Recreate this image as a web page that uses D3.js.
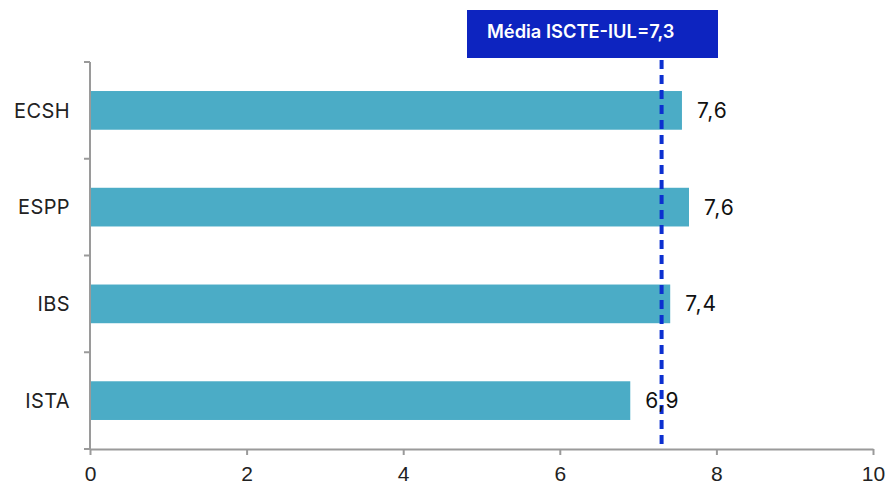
<!DOCTYPE html>
<html>
<head>
<script src="https://d3js.org/d3.v7.min.js"></script>
<style>
  body { margin: 0; background: #fff; }
  svg { font-family: Inter, "Open Sans", sans-serif; }
</style>
</head>
<body>
<svg id="chart" width="887" height="485"></svg>
<script>
// data
var schools = ["ECSH", "ESPP", "IBS", "ISTA"];
var scores = [7.56, 7.65, 7.41, 6.9];
var scoreLabels = ["7,6", "7,6", "7,4", "6,9"];
var xTicks = [0, 2, 4, 6, 8, 10];
var meanValue = 7.3;
var meanLabel = "Média ISCTE-IUL=7,3";

var svg = d3.select("#chart");
var plotLeft = 90, plotRight = 873, plotTop = 62, plotBottom = 449;

var x = d3.scaleLinear().domain([0, 10]).range([plotLeft, plotRight]);
var y = d3.scaleBand().domain(schools).range([plotTop, plotBottom]).paddingInner(0.6).paddingOuter(0.3);

// bars
svg.selectAll("rect.bar")
  .data(schools)
  .enter()
  .append("rect")
  .attr("class", "bar")
  .attr("fill", "#4bacc6")
  .attr("x", x(0))
  .attr("y", function(d){ return y(d); })
  .attr("width", function(d, i){ return x(scores[i]) - x(0); })
  .attr("height", y.bandwidth());

// x axis
var xAxis = svg.append("g")
  .attr("transform", "translate(0," + plotBottom + ")")
  .call(d3.axisBottom(x).tickValues(xTicks).tickSize(6).tickSizeOuter(0).tickFormat(d3.format("d")));
xAxis.select(".domain").attr("stroke", "#9a9a9a").attr("stroke-width", 2);
xAxis.selectAll(".tick line").attr("stroke", "#9a9a9a").attr("stroke-width", 2);
xAxis.selectAll("text").attr("font-size", 21).attr("fill", "#222").attr("dy", "1.08em");

// y axis, ticks sit on the category boundaries
var yAxis = svg.append("g").attr("transform", "translate(" + plotLeft + ",0)");
yAxis.append("line")
  .attr("x1", 0).attr("x2", 0)
  .attr("y1", plotTop).attr("y2", plotBottom)
  .attr("stroke", "#9a9a9a").attr("stroke-width", 2);
var step = (plotBottom - plotTop) / schools.length;
yAxis.selectAll("line.tk")
  .data(d3.range(schools.length + 1))
  .enter()
  .append("line")
  .attr("class", "tk")
  .attr("x1", -6).attr("x2", 0)
  .attr("y1", function(d){ return plotTop + d * step; })
  .attr("y2", function(d){ return plotTop + d * step; })
  .attr("stroke", "#9a9a9a").attr("stroke-width", 2);
yAxis.selectAll("text")
  .data(schools)
  .enter()
  .append("text")
  .attr("x", -20)
  .attr("y", function(d){ return y(d) + y.bandwidth() / 2; })
  .attr("dy", "0.36em")
  .attr("text-anchor", "end")
  .attr("font-size", 20)
  .attr("letter-spacing", 0.4)
  .attr("fill", "#222")
  .text(function(d){ return d; });

// mean line
svg.append("line")
  .attr("x1", x(meanValue)).attr("x2", x(meanValue))
  .attr("y1", 60).attr("y2", plotBottom)
  .attr("stroke", "#0c30d0")
  .attr("stroke-width", 4)
  .attr("stroke-dasharray", "9,6");

// value labels
svg.selectAll("text.val")
  .data(schools)
  .enter()
  .append("text")
  .attr("class", "val")
  .attr("x", function(d, i){ return x(scores[i]) + 15; })
  .attr("y", function(d){ return y(d) + y.bandwidth() / 2; })
  .attr("dy", "0.36em")
  .attr("font-size", 21)
  .attr("letter-spacing", 1)
  .attr("fill", "#111")
  .text(function(d, i){ return scoreLabels[i]; });

// mean label box
svg.append("rect")
  .attr("x", 467).attr("y", 10)
  .attr("width", 251).attr("height", 48)
  .attr("fill", "#0d24c0");
svg.append("text")
  .attr("x", 487).attr("y", 32)
  .attr("dy", "0.35em")
  .attr("font-size", 18.3)
  .attr("font-weight", 600)
  .attr("fill", "#fff")
  .text(meanLabel);
</script>
</body>
</html>
